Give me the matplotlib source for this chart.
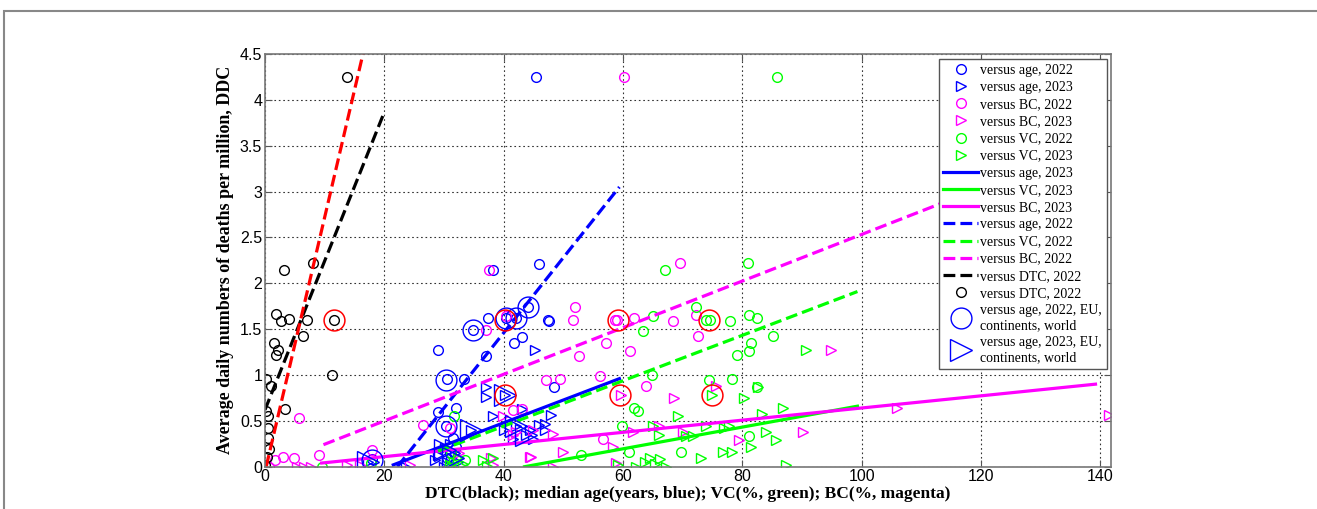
import matplotlib
matplotlib.use('Agg')
import matplotlib.pyplot as plt
from matplotlib.patches import Rectangle

# versus age, 2022 (small blue circles)
age22_x = [45.4, 46.0, 38.3, 37.3, 47.4, 34.8, 40.4, 42.1, 44.1, 41.7, 43.0, 29.0, 37.1,
           30.5, 33.3, 48.4, 32.0, 29.0, 31.5, 30.3, 17.9, 31.0, 30.5, 32.0, 47.6]
age22_y = [4.25, 2.21, 2.14, 1.62, 1.60, 1.49, 1.62, 1.62, 1.74, 1.35, 1.41, 1.27, 1.21,
           0.96, 0.96, 0.87, 0.64, 0.60, 0.31, 0.44, 0.08, 0.15, 0.10, 0.22, 1.59]
# versus age, 2023 (small blue triangles)
age23_x = [45.3, 37.1, 37.1, 40.3, 38.2, 43.0, 48.0, 46.9, 46.0, 42.1, 43.8, 44.5, 34.6,
           30.1, 29.0, 28.5, 23.7, 17.3, 30.5, 31.2, 31.8, 32.4, 30.0, 31.0, 41.5, 44.9,
           40.0, 47.0]
age23_y = [1.27, 0.87, 0.76, 0.78, 0.55, 0.63, 0.56, 0.47, 0.45, 0.44, 0.35, 0.40, 0.40,
           0.20, 0.13, 0.07, 0.00, 0.05, 0.05, 0.10, 0.15, 0.05, 0.00, 0.25, 0.30, 0.30,
           0.40, 0.40]
# EU, continents, world (large markers)
big22_x = [17.9, 30.4, 34.8, 30.3, 40.4, 42.1, 44.1]
big22_y = [0.07, 0.95, 1.49, 0.44, 1.62, 1.62, 1.74]
big23_x = [17.3, 30.1, 34.6, 40.3, 42.1, 43.8, 31.5]
big23_y = [0.05, 0.18, 0.40, 0.78, 0.44, 0.35, 0.10]
# world values highlighted with red rings
world_x = [11.5, 40.3, 59.2, 74.4, 40.3, 59.5, 74.9]
world_y = [1.60, 1.60, 1.60, 1.60, 0.78, 0.78, 0.78]

# versus BC
bc22_x = [60.1, 37.6, 69.5, 51.9, 51.6, 58.6, 59.0, 61.9, 68.4, 72.5, 72.3, 57.2, 61.1,
          52.7, 56.2, 47.1, 49.5, 63.8, 37.1, 40.4, 41.6, 43.1, 26.5, 31.0, 1.7, 3.1,
          4.9, 5.7, 9.1, 17.9, 0.6, 56.6]
bc22_y = [4.25, 2.14, 2.22, 1.74, 1.60, 1.60, 1.60, 1.62, 1.59, 1.42, 1.65, 1.35, 1.26,
          1.21, 0.99, 0.95, 0.96, 0.88, 1.49, 1.64, 0.62, 0.63, 0.45, 0.42, 0.07, 0.11,
          0.09, 0.53, 0.13, 0.18, 0.00, 0.30]
bc23_x = [59.7, 68.6, 48.3, 49.9, 44.6, 48.3, 58.3, 58.9, 61.7, 66.1, 70.0, 79.5, 90.2,
          75.6, 94.8, 106.0, 141.4, 39.9, 42.1, 44.9, 41.6, 37.9, 32.6, 44.4, 24.3, 5.3,
          6.5, 7.7, 13.7, 15.9, 38.2]
bc23_y = [0.78, 0.75, 0.36, 0.16, 0.11, 0.00, 0.22, 0.04, 0.38, 0.44, 0.38, 0.29, 0.38,
          0.88, 1.27, 0.64, 0.56, 0.55, 0.38, 0.40, 0.35, 0.09, 0.15, 0.11, 0.02, 0.00,
          0.00, 0.00, 0.02, 0.02, 0.02]

# versus VC
vc22_x = [85.9, 67.1, 80.9, 65.0, 63.4, 72.2, 74.0, 74.6, 77.9, 81.2, 82.4, 81.5, 81.1,
          79.1, 85.1, 64.9, 74.4, 78.3, 61.9, 62.5, 59.9, 81.2, 69.7, 61.0, 53.0, 82.4,
          31.6, 31.2, 9.5, 17.8, 33.5]
vc22_y = [4.25, 2.14, 2.22, 1.64, 1.48, 1.74, 1.60, 1.60, 1.59, 1.65, 1.62, 1.35, 1.26,
          1.22, 1.42, 1.00, 0.95, 0.96, 0.64, 0.61, 0.44, 0.33, 0.16, 0.16, 0.13, 0.87,
          0.55, 0.15, 0.00, 0.04, 0.07]
vc23_x = [59.2, 62.2, 63.7, 64.5, 65.3, 66.2, 67.2, 65.0, 66.1, 69.2, 73.1, 75.0, 76.7,
          78.2, 80.3, 81.5, 82.6, 83.3, 84.0, 85.6, 86.8, 87.3, 90.6, 77.8, 73.9, 77.0,
          70.5, 71.8, 31.0, 31.7, 32.4, 31.3, 36.5, 38.2, 37.2, 33.2]
vc23_y = [0.02, 0.00, 0.05, 0.10, 0.03, 0.08, 0.00, 0.44, 0.35, 0.55, 0.09, 0.78, 0.16,
          0.16, 0.75, 0.22, 0.87, 0.57, 0.38, 0.29, 0.64, 0.02, 1.27, 0.44, 0.44, 0.42,
          0.33, 0.33, 0.02, 0.05, 0.10, 0.00, 0.07, 0.09, 0.01, 0.03]

# versus DTC, 2022
dtc22_x = [13.7, 8.1, 3.2, 1.8, 2.7, 4.0, 7.1, 11.5, 6.3, 1.45, 2.1, 1.85, 0.2, 1.0,
           11.2, 3.35, 0.2, 0.45, 0.55, 0.55, 0.7, 0.3, 0.0]
dtc22_y = [4.25, 2.22, 2.14, 1.66, 1.59, 1.61, 1.60, 1.60, 1.42, 1.35, 1.27, 1.22, 0.96,
           0.88, 1.00, 0.63, 0.61, 0.55, 0.42, 0.31, 0.19, 0.11, 0.02]

# regression lines (end points)
fit_age23 = ([21.5, 59.4], [0.02, 0.96])
fit_vc23 = ([43.5, 99.3], [0.0, 0.66])
fit_bc23 = ([9.5, 139.2], [0.04, 0.90])
fit_age22 = ([22.2, 59.4], [0.0, 3.05])
fit_vc22 = ([29.0, 99.3], [0.17, 1.91])
fit_bc22 = ([9.8, 118.0], [0.24, 2.99])
fit_dtc22 = ([0.0, 19.9], [0.62, 3.85])
fit_red = ([0.2, 16.6], [0.0, 4.55])

fig = plt.figure(figsize=(13.17, 5.09), dpi=100)
ax = fig.add_axes([0.2012, 0.0831, 0.6424, 0.8108])

ms = 7
mw = 1.0
ax.plot(age22_x, age22_y, 'o', color='blue', mfc='none', ms=ms, mew=mw, label='versus age, 2022')
ax.plot(age23_x, age23_y, '>', color='blue', mfc='none', ms=ms, mew=mw, label='versus age, 2023')
ax.plot(bc22_x, bc22_y, 'o', color='magenta', mfc='none', ms=ms, mew=mw, label='versus BC, 2022')
ax.plot(bc23_x, bc23_y, '>', color='magenta', mfc='none', ms=ms, mew=mw, label='versus BC, 2023')
ax.plot(vc22_x, vc22_y, 'o', color='lime', mfc='none', ms=ms, mew=mw, label='versus VC, 2022')
ax.plot(vc23_x, vc23_y, '>', color='lime', mfc='none', ms=ms, mew=mw, label='versus VC, 2023')

lw = 2.3
ax.plot(*fit_age23, '-', color='blue', lw=lw, label='versus age, 2023')
ax.plot(*fit_vc23, '-', color='lime', lw=lw, label='versus VC, 2023')
ax.plot(*fit_bc23, '-', color='magenta', lw=lw, label='versus BC, 2023')
ax.plot(*fit_age22, '--', color='blue', lw=lw, label='versus age, 2022')
ax.plot(*fit_vc22, '--', color='lime', lw=lw, label='versus VC, 2022')
ax.plot(*fit_bc22, '--', color='magenta', lw=lw, label='versus BC, 2022')
ax.plot(*fit_dtc22, '--', color='black', lw=lw, label='versus DTC, 2022')
ax.plot(dtc22_x, dtc22_y, 'o', color='black', mfc='none', ms=ms, mew=mw, label='versus DTC, 2022')
ax.plot(big22_x, big22_y, 'o', color='blue', mfc='none', ms=15, mew=mw,
        label='versus age, 2022, EU,\ncontinents, world')
ax.plot(big23_x, big23_y, '>', color='blue', mfc='none', ms=16, mew=mw,
        label='versus age, 2023, EU,\ncontinents, world')
ax.plot(*fit_red, '--', color='red', lw=lw)
ax.plot(world_x, world_y, 'o', color='red', mfc='none', ms=15, mew=1.1)

ax.set_xlim(0, 141.8)
ax.set_ylim(0, 4.5)
ax.set_xticks(range(0, 141, 20))
ax.set_yticks([0, 0.5, 1, 1.5, 2, 2.5, 3, 3.5, 4, 4.5])
ax.set_yticklabels(['0', '0.5', '1', '1.5', '2', '2.5', '3', '3.5', '4', '4.5'])
ax.grid(True, color='#333333', linestyle=(0, (1.5, 2.5)), lw=0.8)
ax.tick_params(direction='in', top=True, right=True, length=5, color='#555555',
               labelsize=11.5, pad=2)
for lab in ax.get_xticklabels() + ax.get_yticklabels():
    lab.set_family('Liberation Sans')
for sp in ax.spines.values():
    sp.set_color('#777777')
    sp.set_linewidth(1.2)

ax.set_xlabel('DTC(black); median age(years, blue); VC(%, green); BC(%, magenta)',
              family='Liberation Serif', fontweight='bold', fontsize=12.5, labelpad=1)
ax.set_ylabel('Average daily numbers of deaths per million, DDC',
              family='Liberation Serif', fontweight='bold', fontsize=13, labelpad=4)

leg = ax.legend(loc='upper right', bbox_to_anchor=(0.995, 0.988), borderaxespad=0,
                prop={'family': 'Liberation Serif', 'size': 10}, fancybox=False,
                framealpha=1, edgecolor='#555555', handlelength=2.5, handletextpad=0.15,
                labelspacing=0.3, borderpad=0.35, markerscale=1.0)
leg.get_frame().set_linewidth(1.0)

fig.add_artist(Rectangle((4 / 1317, -0.2), 1.2, 1.2 - 10.5 / 509, transform=fig.transFigure,
                         fill=False, edgecolor='#888888', lw=1.5))

fig.savefig('out.png', dpi=100)
